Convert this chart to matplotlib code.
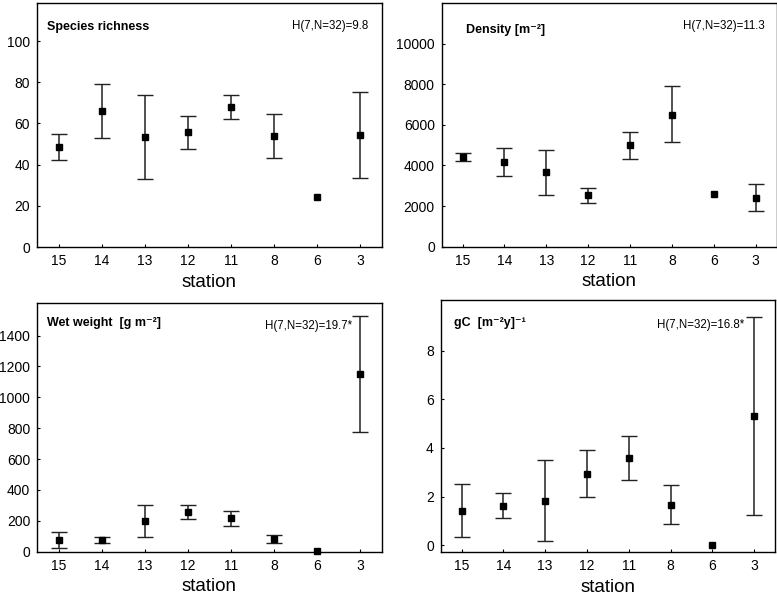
import matplotlib
matplotlib.use("Agg")
import matplotlib.pyplot as plt
import matplotlib.transforms as mtransforms
import numpy as np

plt.rcParams['font.family'] = ['Liberation Sans', 'DejaVu Sans']

stations = ['15', '14', '13', '12', '11', '8', '6', '3']

# Species richness
rich_mean = [48.4, 66.2, 53.6, 55.7, 67.8, 54.0, 24.1, 54.5]
rich_low = [42.1, 52.9, 33.2, 47.7, 62.1, 43.4, None, 33.5]
rich_high = [54.7, 79.1, 73.6, 63.4, 73.6, 64.4, None, 75.1]

# Density
dens_mean = [4410, 4164, 3656, 2525, 4984, 6508, 2607, 2393]
dens_low = [4213, 3492, 2541, 2131, 4295, 5131, None, 1754]
dens_high = [4607, 4869, 4770, 2902, 5639, 7918, None, 3082]

# Wet weight
ww_mean = [73, 78, 201, 259, 216, 84, 2, 1153]
ww_low = [24, 56, 97, 212, 164, 58, None, 778]
ww_high = [127, 97, 305, 302, 264, 110, None, 1527]

# gC
gc_mean = [1.42, 1.62, 1.83, 2.94, 3.57, 1.66, 0.0, 5.32]
gc_low = [0.34, 1.10, 0.15, 1.99, 2.67, 0.85, None, 1.24]
gc_high = [2.50, 2.14, 3.49, 3.90, 4.48, 2.47, None, 9.39]

panels = [
    dict(mean=rich_mean, low=rich_low, high=rich_high,
         title='Species richness', h='H(7,N=32)=9.8',
         ylim=(0, 118.5), yticks=[0, 20, 40, 60, 80, 100],
         rect=(37, 3, 382, 247), toff=(10, 24), hoff=(14, 23)),
    dict(mean=dens_mean, low=dens_low, high=dens_high,
         title='Density [m\u207b\u00b2]', h='H(7,N=32)=11.3',
         ylim=(0, 12000), yticks=[0, 2000, 4000, 6000, 8000, 10000],
         rect=(441.7, 3, 776.5, 246.7), toff=(24, 27), hoff=(11.5, 23)),
    dict(mean=ww_mean, low=ww_low, high=ww_high,
         title='Wet weight  [g m\u207b\u00b2]', h='H(7,N=32)=19.7*',
         ylim=(0, 1613), yticks=[0, 200, 400, 600, 800, 1000, 1200, 1400],
         rect=(37.3, 302.7, 381.7, 551.7), toff=(10, 20), hoff=(30, 23)),
    dict(mean=gc_mean, low=gc_low, high=gc_high,
         title='gC  [m\u207b\u00b2y]\u207b\u00b9', h='H(7,N=32)=16.8*',
         ylim=(-0.3, 10.1), yticks=[0, 2, 4, 6, 8],
         rect=(440.7, 300, 775, 552.3), toff=(13, 23), hoff=(31, 25)),
]

W, H = 777, 597
fig = plt.figure(figsize=(W / 100, H / 100), dpi=100)
fig.patch.set_facecolor('white')

x = np.arange(len(stations))
for p in panels:
    l, t, r, b = p['rect']
    ax = fig.add_axes([l / W, 1 - b / H, (r - l) / W, (b - t) / H])
    mean = np.array(p['mean'], dtype=float)
    idx = [i for i in range(len(stations)) if p['low'][i] is not None]
    lo = np.array([p['low'][i] for i in idx], dtype=float)
    hi = np.array([p['high'][i] for i in idx], dtype=float)
    m = mean[idx]
    ax.errorbar(x[idx], m, yerr=[m - lo, hi - m], fmt='none',
                ecolor='#222222', elinewidth=1.1, capsize=6, capthick=1.0,
                zorder=2)
    ax.plot(x, mean, 's', color='black', markersize=3.8, zorder=3,
            clip_on=False)
    ax.set_xlim(-0.5, 7.5)
    ax.set_ylim(*p['ylim'])
    ax.set_xticks(x)
    ax.set_xticklabels(stations)
    ax.set_yticks(p['yticks'])
    ax.tick_params(direction='in', length=2, width=0.8, labelsize=10,
                   pad=5, colors='black')
    for s in ax.spines.values():
        s.set_linewidth(1.0)
        s.set_color('black')
    ax.set_xlabel('station', fontsize=13.5, labelpad=4)
    tt = mtransforms.offset_copy(ax.transAxes, fig=fig,
                                 x=p['toff'][0], y=-p['toff'][1], units='dots')
    ax.text(0, 1, p['title'], transform=tt, fontsize=9, fontweight='bold',
            ha='left', va='center')
    ht = mtransforms.offset_copy(ax.transAxes, fig=fig,
                                 x=-p['hoff'][0], y=-p['hoff'][1], units='dots')
    ax.text(1, 1, p['h'], transform=ht, fontsize=8.3, ha='right', va='center')

fig.savefig('out.png', dpi=100, facecolor='white')
